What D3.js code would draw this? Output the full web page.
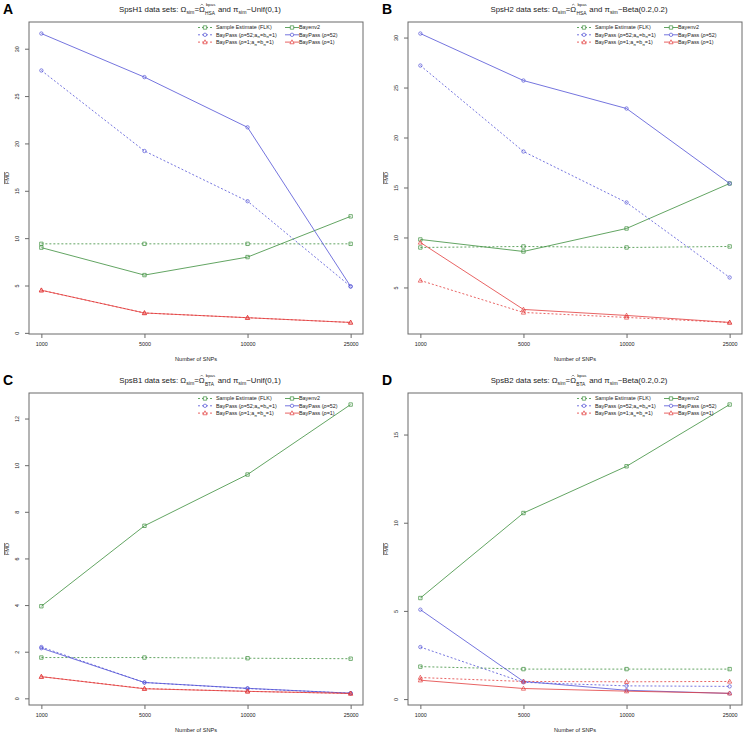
<!DOCTYPE html>
<html><head><meta charset="utf-8">
<script src="https://cdn.jsdelivr.net/npm/d3@7"></script>
<style>
body{margin:0;background:#fff}
svg{display:block}
text{font-family:"Liberation Sans",Arial,Helvetica,sans-serif;fill:#222;white-space:pre}
</style>
</head><body>
<svg id="chart" width="744" height="742"></svg>
<script>
// ---------------- DATA ----------------
const snps = ["1000", "5000", "10000", "25000"];
const legendLabels = ["Sample Estimate (FLK)", "Bayenv2", "BayPass (ρ=52;a_π=b_π=1)", "BayPass (ρ=52)", "BayPass (ρ=1;a_π=b_π=1)", "BayPass (ρ=1)"];

// Panel A: SpsH1
const h1FLK     = [9.4, 9.4, 9.4, 9.4];
const h1Bayenv2 = [9.0, 6.1, 8.0, 12.3];
const h1BP52a   = [27.7, 19.2, 13.9, 4.9];
const h1BP52    = [31.6, 27.0, 21.7, 4.9];
const h1BP1a    = [4.5, 2.1, 1.6, 1.1];
const h1BP1     = [4.5, 2.1, 1.6, 1.1];
// Panel B: SpsH2
const h2FLK     = [9.0, 9.1, 9.0, 9.1];
const h2Bayenv2 = [9.8, 8.6, 10.9, 15.4];
const h2BP52a   = [27.2, 18.6, 13.5, 6.0];
const h2BP52    = [30.4, 25.7, 22.9, 15.4];
const h2BP1a    = [5.7, 2.5, 2.0, 1.5];
const h2BP1     = [9.5, 2.8, 2.2, 1.5];
// Panel C: SpsB1
const b1FLK     = [1.75, 1.75, 1.72, 1.70];
const b1Bayenv2 = [3.95, 7.4, 9.6, 12.6];
const b1BP52a   = [2.2, 0.68, 0.42, 0.22];
const b1BP52    = [2.15, 0.68, 0.43, 0.22];
const b1BP1a    = [0.93, 0.42, 0.30, 0.21];
const b1BP1     = [0.93, 0.41, 0.30, 0.21];
// Panel D: SpsB2
const b2FLK     = [1.84, 1.70, 1.70, 1.70];
const b2Bayenv2 = [5.73, 10.55, 13.2, 16.7];
const b2BP52a   = [2.95, 0.95, 0.75, 0.72];
const b2BP52    = [5.07, 1.0, 0.5, 0.32];
const b2BP1a    = [1.22, 1.0, 0.98, 1.0];
const b2BP1     = [1.07, 0.6, 0.45, 0.33];

// y tick labels per panel
const ticksA = [0, 5, 10, 15, 20, 25, 30];
const ticksB = [5, 10, 15, 20, 25, 30];
const ticksC = [0, 2, 4, 6, 8, 10, 12];
const ticksD = [0, 5, 10, 15];

const panelLetters = ["A", "B", "C", "D"];
const panelNames = ["SpsH1", "SpsH2", "SpsB1", "SpsB2"];
const panelOmega = ["HSA", "HSA", "BTA", "BTA"];
const panelPi = ["~Unif(0,1)", "~Beta(0.2,0.2)", "~Unif(0,1)", "~Beta(0.2,0.2)"];
const xLabel = "Number of SNPs";
const yLabel = "FMD";

// ---------------- STYLE / LAYOUT ----------------
const GREEN = "#3b8e3b", BLUE = "#5252d6", RED = "#e23c3c";
const seriesStyle = [
  {color: GREEN, dash: "2,2", sym: "square"},
  {color: GREEN, dash: null,  sym: "square"},
  {color: BLUE,  dash: "2,2", sym: "circle"},
  {color: BLUE,  dash: null,  sym: "circle"},
  {color: RED,   dash: "2,2", sym: "triangle"},
  {color: RED,   dash: null,  sym: "triangle"}
];
const panels = [
  {series: [h1FLK, h1Bayenv2, h1BP52a, h1BP52, h1BP1a, h1BP1], ticks: ticksA, dx: 0,   dy: 0},
  {series: [h2FLK, h2Bayenv2, h2BP52a, h2BP52, h2BP1a, h2BP1], ticks: ticksB, dx: 379, dy: 0},
  {series: [b1FLK, b1Bayenv2, b1BP52a, b1BP52, b1BP1a, b1BP1], ticks: ticksC, dx: 0,   dy: 371},
  {series: [b2FLK, b2Bayenv2, b2BP52a, b2BP52, b2BP1a, b2BP1], ticks: ticksD, dx: 379, dy: 371}
];
const BOX = {x0: 29, x1: 363, y0: 22, y1: 334};
const FS = 5.4;

const svg = d3.select("#chart");

function symbolPath(sym, x, y) {
  if (sym === "square") { const s = 1.7; return `M${x-s},${y-s}H${x+s}V${y+s}H${x-s}Z`; }
  if (sym === "triangle") { const s = 2.1; return `M${x},${y-s*1.1}L${x+s},${y+s*0.8}L${x-s},${y+s*0.8}Z`; }
  const r = 1.7;
  return `M${x-r},${y}A${r},${r} 0 1,0 ${x+r},${y}A${r},${r} 0 1,0 ${x-r},${y}`;
}

function subText(sel, str, fs) {
  // "_π" marks a subscript character
  const parts = str.split(/(_.|ρ)/).filter(p => p);
  let pending = 0;
  parts.forEach(p => {
    if (p[0] === "_") {
      sel.append("tspan").attr("dy", fs * 0.3 + pending).attr("font-size", fs * 0.72).text(p.slice(1));
      pending = -fs * 0.3;
    } else {
      const t = sel.append("tspan").attr("dy", pending).text(p);
      if (p === "ρ") t.attr("font-style", "italic");
      pending = 0;
    }
  });
}

function drawMath(parent, pieces, cx, y, fs) {
  const g = parent.append("g");
  let x = 0;
  const put = (txt, px, py, size) => {
    const t = g.append("text").attr("x", px).attr("y", py).attr("font-size", size).text(txt);
    return t.node().getComputedTextLength();
  };
  pieces.forEach(p => {
    if (p.type === "n") x += put(p.t, x, 0, fs);
    else if (p.type === "sub") x += put(p.t, x, fs * 0.3, fs * 0.66);
    else if (p.type === "hat") {
      const w = put(p.t, x, 0, fs);
      const hx = x + w / 2, hy = -fs * 0.98;
      g.append("path").attr("d", `M${hx - 1.3},${hy + 1}L${hx},${hy - 0.3}L${hx + 1.3},${hy + 1}`)
        .attr("fill", "none").attr("stroke", "#222").attr("stroke-width", 0.5);
      x += w;
    } else if (p.type === "supsub") {
      const w1 = put(p.sup, x + 1.2, -fs * 0.72, fs * 0.55);
      const w2 = put(p.sub, x + 0.3, fs * 0.32, fs * 0.62);
      x += Math.max(w1 + 1.2, w2 + 0.3) + 0.5;
    }
  });
  g.attr("transform", `translate(${cx - x / 2},${y})`);
}

panels.forEach((P, i) => {
  const g = svg.append("g").attr("transform", `translate(${P.dx},${P.dy})`);
  const all = P.series.flat();
  const mn = d3.min(all), mx = d3.max(all), d = mx - mn;
  const y = d3.scaleLinear().domain([mn - 0.04 * d, mx + 0.04 * d]).range([BOX.y1, BOX.y0]);
  const x = d3.scalePoint().domain(snps).range([BOX.x0, BOX.x1]).padding(0.12);

  // panel letter
  g.append("text").attr("x", 3).attr("y", 14).attr("font-size", 14).attr("font-weight", "bold")
    .style("fill", "#000").text(panelLetters[i]);

  // title
  drawMath(g, [
    {type: "n", t: panelNames[i] + " data sets: Ω"},
    {type: "sub", t: "sim"},
    {type: "n", t: "="},
    {type: "hat", t: "Ω"},
    {type: "supsub", sup: "bpas", sub: panelOmega[i]},
    {type: "n", t: " and π"},
    {type: "sub", t: "sim"},
    {type: "n", t: panelPi[i]}
  ], (BOX.x0 + BOX.x1) / 2 + 4, 12, 7.8);

  // box
  g.append("rect").attr("x", BOX.x0).attr("y", BOX.y0)
    .attr("width", BOX.x1 - BOX.x0).attr("height", BOX.y1 - BOX.y0)
    .attr("fill", "none").attr("stroke", "#6a6a6a").attr("stroke-width", 1);

  // x axis
  const xa = g.append("g").attr("transform", `translate(0,${BOX.y1})`)
    .call(d3.axisBottom(x).tickSize(4).tickPadding(4));
  xa.select(".domain").remove();
  xa.selectAll("line").attr("stroke", "#6a6a6a");
  xa.selectAll("text").attr("font-size", FS).attr("font-family", "Liberation Sans, Arial, sans-serif").style("fill", "#222");

  // y axis
  const ya = g.append("g").attr("transform", `translate(${BOX.x0},0)`)
    .call(d3.axisLeft(y).tickValues(P.ticks).tickSize(4).tickPadding(3));
  ya.select(".domain").remove();
  ya.selectAll("line").attr("stroke", "#6a6a6a");
  ya.selectAll("text").attr("font-size", FS).attr("font-family", "Liberation Sans, Arial, sans-serif")
    .style("fill", "#222")
    .attr("text-anchor", "middle").attr("x", null).attr("dy", null)
    .attr("transform", "translate(-10,0) rotate(-90)");

  // axis labels
  g.append("text").attr("x", (BOX.x0 + BOX.x1) / 2).attr("y", BOX.y1 + 27)
    .attr("text-anchor", "middle").attr("font-size", 5.6).text(xLabel);
  g.append("text").attr("transform", `translate(9,${(BOX.y0 + BOX.y1) / 2}) rotate(-90)`)
    .attr("text-anchor", "middle").attr("font-size", 5.6).attr("text-decoration", "overline").text(yLabel);

  // series
  P.series.forEach((vals, k) => {
    const st = seriesStyle[k];
    const line = d3.line().x((v, j) => x(snps[j])).y(v => y(v));
    g.append("path").attr("d", line(vals)).attr("fill", "none")
      .attr("stroke", st.color).attr("stroke-width", 0.8)
      .attr("stroke-dasharray", st.dash);
    vals.forEach((v, j) => {
      g.append("path").attr("d", symbolPath(st.sym, x(snps[j]), y(v)))
        .attr("fill", "none").attr("stroke", st.color).attr("stroke-width", 0.7);
    });
  });

  // legend
  const lg = g.append("g");
  legendLabels.forEach((lab, k) => {
    const st = seriesStyle[k];
    const col = k % 2, row = Math.floor(k / 2);
    const sx = BOX.x1 - (col === 0 ? 158 : 71);
    const ly = BOX.y0 + 5.5 + row * 7.3;
    lg.append("line").attr("x1", sx - 7).attr("x2", sx + 7).attr("y1", ly).attr("y2", ly)
      .attr("stroke", st.color).attr("stroke-width", 0.8).attr("stroke-dasharray", st.dash);
    lg.append("path").attr("d", symbolPath(st.sym, sx, ly)).attr("fill", "#fff")
      .attr("stroke", st.color).attr("stroke-width", 0.7);
    const t = lg.append("text").attr("x", sx + (col === 0 ? 11 : 7)).attr("y", ly + 1.9).attr("font-size", FS);
    subText(t, lab, FS);
  });
});
</script>
</body></html>
